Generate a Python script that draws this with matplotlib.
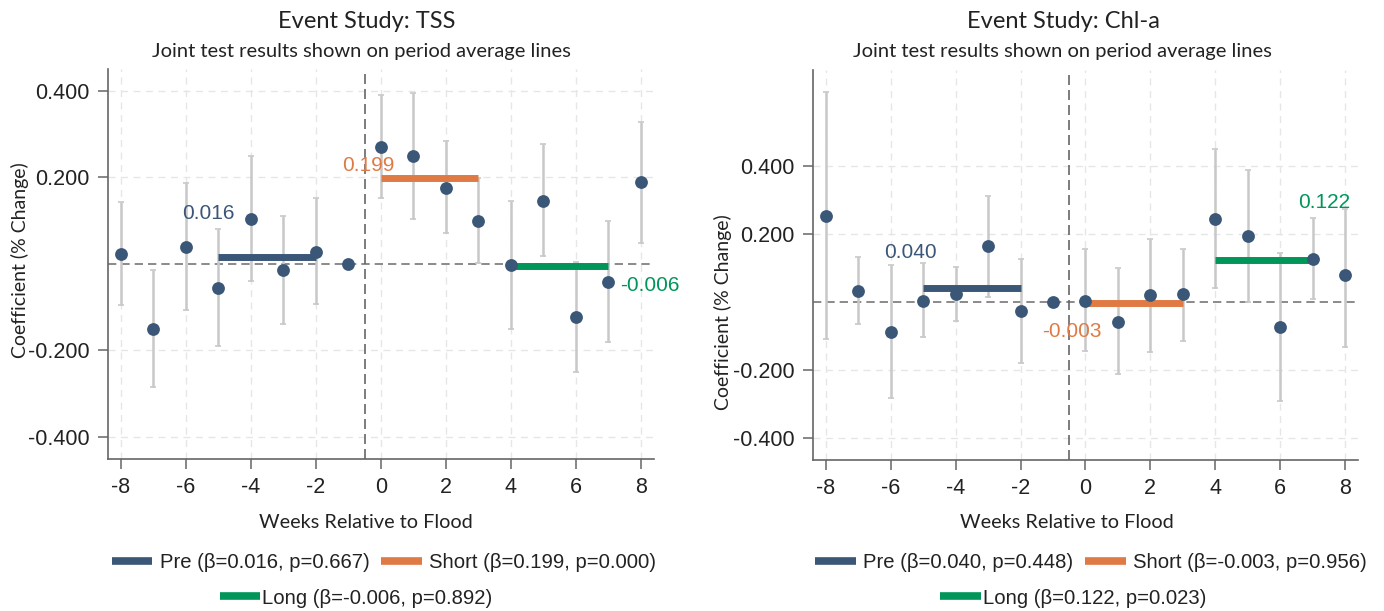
import matplotlib
matplotlib.use("Agg")

import numpy as np
import matplotlib.pyplot as plt
from matplotlib.lines import Line2D

plt.rcParams["axes.unicode_minus"] = False

weeks = np.arange(-8, 9)

# TSS event-study coefficients and 95% CIs (week -1 is the reference period)
tss_coef = [0.022, -0.150, 0.038, -0.055, 0.104, -0.015, 0.028, 0.0,
            0.270, 0.249, 0.176, 0.099, -0.002, 0.146, -0.124, -0.042, 0.188]
tss_lo = [-0.096, -0.286, -0.106, -0.189, -0.040, -0.139, -0.093, np.nan,
          0.152, 0.104, 0.071, 0.002, -0.151, 0.017, -0.250, -0.180, 0.049]
tss_hi = [0.142, -0.015, 0.186, 0.080, 0.249, 0.111, 0.151, np.nan,
          0.389, 0.395, 0.284, 0.199, 0.146, 0.277, 0.005, 0.098, 0.328]

# Chl-a
chl_coef = [0.253, 0.032, -0.089, 0.003, 0.023, 0.162, -0.028, 0.0,
            0.003, -0.059, 0.020, 0.022, 0.244, 0.194, -0.075, 0.125, 0.079]
chl_lo = [-0.109, -0.066, -0.284, -0.104, -0.056, 0.014, -0.180, np.nan,
          -0.146, -0.214, -0.147, -0.115, 0.041, -0.001, -0.292, 0.008, -0.133]
chl_hi = [0.617, 0.131, 0.107, 0.112, 0.103, 0.310, 0.125, np.nan,
          0.154, 0.098, 0.185, 0.156, 0.448, 0.388, 0.142, 0.245, 0.273]

periods = ["Pre", "Short", "Long"]
period_span = [(-5, -2), (0, 3), (4, 7)]
tss_avg = [0.016, 0.199, -0.006]
tss_p = [0.667, 0.000, 0.892]
chl_avg = [0.040, -0.003, 0.122]
chl_p = [0.448, 0.956, 0.023]

NAVY = "#3b5778"
ORANGE = "#e07a44"
GREEN = "#00965a"
colors = [NAVY, ORANGE, GREEN]

TITLE_FONT = "Lato"
TICK_FONT = ["Liberation Sans Narrow", "Liberation Sans"]


def draw_panel(ax, coef, lo, hi, avg, label_pos, ylim, yticks):
    coef = np.array(coef)
    lo = np.array(lo)
    hi = np.array(hi)
    ok = ~np.isnan(lo)
    ax.errorbar(weeks[ok], coef[ok], yerr=[coef[ok] - lo[ok], hi[ok] - coef[ok]],
                fmt="none", ecolor="#c8c8c8", elinewidth=1.8, capsize=2.5,
                capthick=1.2, zorder=2)
    ax.axhline(0, color="#777777", lw=1.2, ls=(0, (5, 3)), zorder=1)
    ax.axvline(-0.5, color="#666666", lw=1.2, ls=(0, (6, 3)), zorder=1)
    for (x0, x1), v, c in zip(period_span, avg, colors):
        ax.plot([x0, x1], [v, v], color=c, lw=5, solid_capstyle="butt", zorder=3)
    ax.scatter(weeks, coef, s=85, color=NAVY, zorder=4, linewidths=0)
    for (tx, ty, ha), v, c in zip(label_pos, avg, colors):
        ax.text(tx, ty, f"{v:.3f}", color=c, fontsize=15, ha=ha, va="center",
                family=TICK_FONT)

    ax.set_xlim(-8.4, 8.4)
    ax.set_ylim(*ylim)
    ax.set_xticks(np.arange(-8, 9, 2))
    ax.set_yticks(yticks)
    ax.set_yticklabels([f"{t:.3f}" for t in yticks])
    ax.grid(True, color="#e6e6e6", lw=1.0, ls=(0, (5, 4)))
    ax.set_axisbelow(True)
    for s in ["top", "right"]:
        ax.spines[s].set_visible(False)
    for s in ["left", "bottom"]:
        ax.spines[s].set_color("#666666")
        ax.spines[s].set_linewidth(1.2)
    ax.tick_params(direction="out", length=7, width=1.1, color="#666666",
                   labelsize=15.5, labelcolor="#222222", pad=6)
    for lab in ax.get_xticklabels() + ax.get_yticklabels():
        lab.set_family(TICK_FONT)


fig = plt.figure(figsize=(13.84, 6.11), dpi=100)
ax1 = fig.add_axes([0.078, 0.249, 0.3945, 0.638])
ax2 = fig.add_axes([0.5874, 0.247, 0.3938, 0.638])

draw_panel(ax1, tss_coef, tss_lo, tss_hi, tss_avg,
           [(-5.3, 0.117, "center"), (-0.4, 0.227, "center"), (7.35, -0.051, "left")],
           (-0.451, 0.45), [-0.4, -0.2, 0.2, 0.4])
draw_panel(ax2, chl_coef, chl_lo, chl_hi, chl_avg,
           [(-5.4, 0.145, "center"), (-0.43, -0.088, "center"), (7.35, 0.292, "center")],
           (-0.466, 0.68), [-0.4, -0.2, 0.2, 0.4])

# titles and axis labels
def ftext(x, y, s, size, **kw):
    fig.text(x / 1384, 1 - y / 611, s, fontsize=size, family=TITLE_FONT,
             color="#222222", ha="center", va="center", **kw)

ftext(367, 22, "Event Study: TSS", 17)
ftext(361, 52, "Joint test results shown on period average lines", 14.5)
ftext(1063, 22, "Event Study: Chl-a", 17)
ftext(1062, 52, "Joint test results shown on period average lines", 14.5)
ftext(366, 522, "Weeks Relative to Flood", 14.3)
ftext(1067, 522, "Weeks Relative to Flood", 14.3)
ftext(20, 260, "Coefficient (% Change)", 14, rotation=90)
ftext(723, 312, "Coefficient (% Change)", 14, rotation=90)


def add_legend(avg, pvals, cx1, cx2):
    handles = [Line2D([], [], color=c, lw=5.5, solid_capstyle="butt") for c in colors]
    labels = [f"{n} (β={v:.3f}, p={p:.3f})" for n, v, p in zip(periods, avg, pvals)]
    leg = fig.legend(handles[:2], labels[:2], ncol=2, loc="center",
                     bbox_to_anchor=(cx1 / 1384, 1 - 563 / 611), frameon=False,
                     handlelength=2.0, handletextpad=0.35, columnspacing=0.6,
                     prop={"family": TICK_FONT, "size": 14.6})
    leg2 = fig.legend(handles[2:], labels[2:], loc="center",
                      bbox_to_anchor=(cx2 / 1384, 1 - 598 / 611), frameon=False,
                      handlelength=2.0, handletextpad=0.1,
                      prop={"family": TICK_FONT, "size": 14.6})
    for t in leg.get_texts() + leg2.get_texts():
        t.set_color("#222222")


add_legend(tss_avg, tss_p, 384, 356)
add_legend(chl_avg, chl_p, 1091, 1073)

fig.savefig("out.png", dpi=100)
